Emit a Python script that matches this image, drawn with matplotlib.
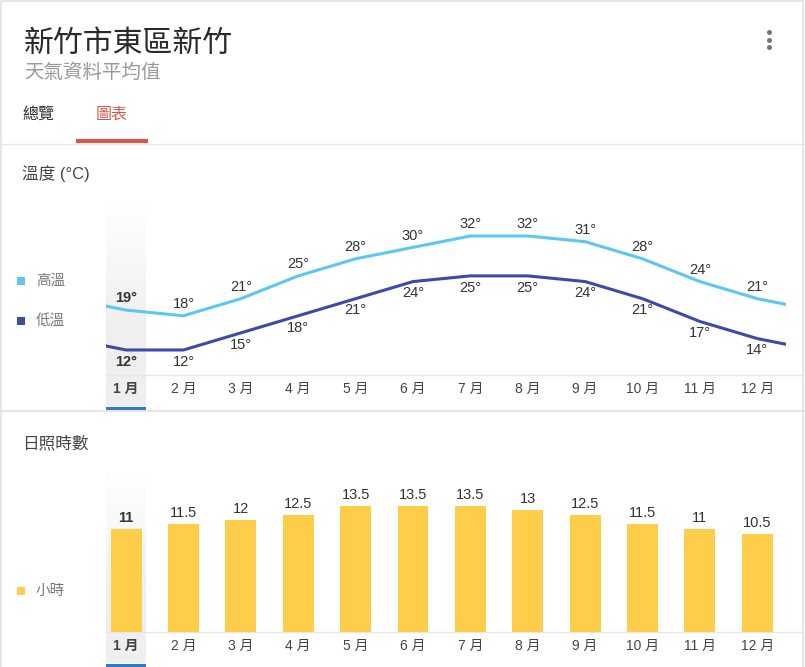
import numpy as np
import matplotlib
matplotlib.use("Agg")
import matplotlib.pyplot as plt
from matplotlib.patches import Rectangle
from matplotlib.colors import to_rgb

plt.rcParams['font.family'] = ['Liberation Sans', 'Noto Sans CJK TC', 'DejaVu Sans']

# 資料
months = ['1 月', '2 月', '3 月', '4 月', '5 月', '6 月',
          '7 月', '8 月', '9 月', '10 月', '11 月', '12 月']
high_temp = [19, 18, 21, 25, 28, 30, 32, 32, 31, 28, 24, 21]
low_temp = [12, 12, 15, 18, 21, 24, 25, 25, 24, 21, 17, 14]
sun_hours = [11, 11.5, 12, 12.5, 13.5, 13.5, 13.5, 13, 12.5, 11.5, 11, 10.5]

HIGH_C = '#5ac8f2'
LOW_C = '#3c4aa8'
BAR_C = '#fece4a'
TXT = '#333333'
SEL = 0  # 選中的月份

W, H = 805, 667
fig = plt.figure(figsize=(W / 100, H / 100), dpi=100)


def box(l, t, w, h):
    return [l / W, 1 - (t + h) / H, w / W, h / H]


# 背景 (像素座標)
bg = fig.add_axes([0, 0, 1, 1])
bg.set_xlim(0, W)
bg.set_ylim(H, 0)
bg.axis('off')

bg.add_patch(Rectangle((1, 1), 802, 700, fill=False, ec='#e2e2e2', lw=1.2))
bg.plot([0, W], [144, 144], color='#e6e6e6', lw=1)
bg.plot([0, W], [411, 411], color='#e0e0e0', lw=1.2)
bg.plot([76, 148], [141, 141], color='#d9574a', lw=3, solid_capstyle='butt')
for yy in (32, 40, 47):
    bg.plot(769, yy, 'o', color='#777777', ms=3.6, mew=0)


def band(top, bottom):
    n = 100
    alpha = np.clip(np.linspace(0, 1.6, n), 0, 1)[:, None]
    img = np.zeros((n, 1, 4))
    img[..., :3] = to_rgb('#efefef')
    img[..., 3] = alpha
    bg.imshow(img, extent=(106, 146, bottom, top), aspect='auto',
              interpolation='bilinear', zorder=0)
    bg.add_patch(Rectangle((106, bottom), 40, 3.5, color='#2b7bd6', zorder=1, lw=0))


band(200, 406.5)
band(472, 663.5)
bg.plot([106, 803], [375, 375], color='#e6e6e6', lw=1, zorder=1)
bg.plot([106, 803], [632, 632], color='#e6e6e6', lw=1, zorder=1)

# 標題
fig.text(24 / W, 1 - 44 / H, '新竹市東區新竹', fontsize=21.5, color='#2a2a2a', va='center')
fig.text(24 / W, 1 - 73 / H, '天氣資料平均值', fontsize=14, color='#9a9a9a', va='center')
fig.text(22 / W, 1 - 114 / H, '總覽', fontsize=11.5, color='#333333', va='center')
fig.text(96 / W, 1 - 114 / H, '圖表', fontsize=11.5, color='#d9574a', va='center')
fig.text(22 / W, 1 - 174 / H, '溫度 (°C)', fontsize=12, color='#444444', va='center')
fig.text(22 / W, 1 - 443 / H, '日照時數', fontsize=12, color='#444444', va='center')

# 圖例
for y, c, lab in [(281, HIGH_C, '高溫'), (321, LOW_C, '低溫'), (591, BAR_C, '小時')]:
    bg.add_patch(Rectangle((17, y - 4), 8, 8, color=c, lw=0))
    fig.text(36 / W, 1 - y / H, lab, fontsize=10.5, color='#777777', va='center')

x = np.arange(len(months))
xlim = (-0.35, 11.5)

# 溫度
ax = fig.add_axes(box(106, 195, 680, 180))
ax.patch.set_alpha(0)
# 首尾環繞以延伸線條至邊緣
xw = np.concatenate([[-1], x, [len(x)]])
hw = np.concatenate([[high_temp[-1]], high_temp, [high_temp[0]]])
lw_ = np.concatenate([[low_temp[-1]], low_temp, [low_temp[0]]])
ax.plot(xw, hw, color=HIGH_C, lw=2.2, solid_joinstyle='round')
ax.plot(xw, lw_, color=LOW_C, lw=2.2, solid_joinstyle='round')
ax.set_xlim(*xlim)
ax.set_ylim(7.61, 39.19)
for i, (h, l) in enumerate(zip(high_temp, low_temp)):
    wt = 'bold' if i == SEL else 'normal'
    ax.annotate(f'{h}°', (i, h), xytext=(0, 8.5), textcoords='offset points',
                ha='center', va='center', fontsize=10.5, color=TXT, weight=wt)
    ax.annotate(f'{l}°', (i, l), xytext=(0, -8.5), textcoords='offset points',
                ha='center', va='center', fontsize=10.5, color=TXT, weight=wt)


def style_axis(a):
    a.set_xticks(x)
    a.set_xticklabels(months, fontsize=10, color='#444444')
    a.tick_params(axis='x', length=0, pad=5)
    a.get_xticklabels()[SEL].set_fontweight('bold')
    a.set_yticks([])
    for s in a.spines.values():
        s.set_visible(False)


style_axis(ax)

# 日照
bx = fig.add_axes(box(106, 470, 680, 162))
bx.patch.set_alpha(0)
bars = bx.bar(x, sun_hours, width=0.54, color=BAR_C, zorder=2)
bx.set_xlim(*xlim)
bx.set_ylim(0, 17.33)
labels = bx.bar_label(bars, labels=[f'{v:g}' for v in sun_hours], padding=3,
                      fontsize=10.5, color=TXT)
labels[SEL].set_fontweight('bold')
style_axis(bx)

fig.savefig('out.png', dpi=100)
